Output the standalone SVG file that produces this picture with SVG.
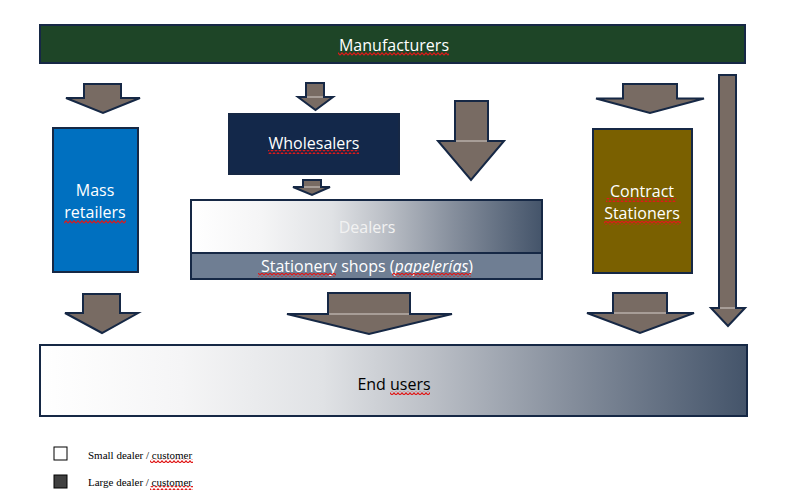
<svg xmlns="http://www.w3.org/2000/svg" width="811" height="499" viewBox="0 0 811 499">
<style>
.box{stroke:#162845;stroke-width:2}
.arr{fill:#786b63;stroke:#162845;stroke-width:2;stroke-linejoin:miter}
.seam{stroke:#d6d0cc;stroke-width:1}
.lbl{font-family:"Open Sans","Liberation Sans",sans-serif;font-size:16px;fill:#ffffff;text-anchor:middle}
.dark{fill:#000000}
.leg{font-family:"Liberation Serif","Times New Roman",serif;font-size:11px;fill:#000}
.sq{fill:url(#squig)}
</style>
<defs>
<linearGradient id="grad" x1="0" y1="0" x2="1" y2="0">
<stop offset="0" stop-color="#ffffff"/>
<stop offset="0.2" stop-color="#f5f5f6"/>
<stop offset="0.4" stop-color="#e0e2e5"/>
<stop offset="0.55" stop-color="#bcc0c7"/>
<stop offset="0.75" stop-color="#858e9c"/>
<stop offset="1" stop-color="#44546a"/>
</linearGradient>
<pattern id="squig" patternUnits="userSpaceOnUse" width="4" height="4">
<path d="M0,3.2 L2,0.8 L4,3.2" fill="none" stroke="#e01818" stroke-width="1.1"/>
</pattern>
</defs>

<g id="manufacturers">
<rect class="box" x="40" y="25" width="705" height="38" fill="#1e4527"/>
<text class="lbl" x="394" y="51">Manufacturers</text>
</g>

<g id="mass-retailers">
<rect class="box" x="53" y="128" width="85" height="144" fill="#0070c0"/>
<text class="lbl" x="95" y="196">Mass</text>
<text class="lbl" x="95" y="218">retailers</text>
</g>

<g id="wholesalers">
<rect class="box" x="229" y="114" width="170" height="60" fill="#13284a"/>
<text class="lbl" x="314" y="149">Wholesalers</text>
</g>

<g id="dealers">
<rect class="box" x="191" y="200" width="351" height="53" fill="url(#grad)"/>
<text class="lbl" x="367" y="233" style="fill:#f2f2f2">Dealers</text>
</g>

<g id="stationery-shops">
<rect class="box" x="191" y="253" width="351" height="26" fill="#6f7e93"/>
<text class="lbl" x="367" y="272">Stationery shops (<tspan font-style="italic">papelerías</tspan>)</text>
</g>

<g id="contract-stationers">
<rect class="box" x="593" y="129" width="99" height="144" fill="#7a6000"/>
<text class="lbl" x="642" y="197">Contract</text>
<text class="lbl" x="642" y="219">Stationers</text>
</g>

<g id="end-users">
<rect class="box" x="40" y="345" width="707" height="71" fill="url(#grad)"/>
<text class="lbl dark" x="394" y="390">End users</text>
</g>

<g id="connectors">
<path class="arr" d="M84,84 H121 V98 H140 L103,113 L66,98 H84 Z"/>
<path class="arr" d="M306,83 H324 V97 H333 L315.5,110 L298,97 H306 Z"/>
<line class="seam" x1="307" y1="97" x2="323" y2="97"/>
<path class="arr" d="M455,101 H488 V141 H504 L471,180 L438,141 H455 Z"/>
<line class="seam" x1="456" y1="141" x2="487" y2="141"/>
<path class="arr" d="M623,84 H677 V98.5 H704 L650,113 L596,98.5 H623 Z"/>
<path class="arr" d="M719,75 H736 V308 H745 L728,326 L711,308 H719 Z"/>
<line class="seam" x1="720" y1="308" x2="735" y2="308"/>
<path class="arr" d="M303,180 H321 V187 H330 L312,195 L293,187 H303 Z"/>
<line class="seam" x1="304" y1="187" x2="320" y2="187"/>
<path class="arr" d="M83,294 H120 V313 H138 L102,333 L65,313 H83 Z"/>
<path class="arr" d="M328,293 H410 V314 H452 L369,334 L287,314 H328 Z"/>
<line class="seam" x1="329" y1="314" x2="409" y2="314"/>
<path class="arr" d="M613,293 H667 V313 H694 L640,333 L587,313 H613 Z"/>
<line class="seam" x1="614" y1="313" x2="666" y2="313"/>
</g>

<g id="legend">
<rect x="54" y="447" width="13" height="13" fill="#ffffff" stroke="#000" stroke-width="1"/>
<text class="leg" x="88" y="459">Small dealer / customer</text>
<rect x="54" y="475" width="13" height="13" fill="#404040" stroke="#000" stroke-width="1"/>
<text class="leg" x="88" y="486">Large dealer / customer</text>
</g>

<g id="spellcheck">
<rect class="sq" x="338" y="52" width="111" height="4"/>
<rect class="sq" x="268" y="150" width="91" height="4"/>
<rect class="sq" x="64" y="220" width="62" height="4"/>
<rect class="sq" x="606" y="198" width="70" height="4"/>
<rect class="sq" x="604" y="221" width="77" height="4"/>
<rect class="sq" x="258" y="273" width="78" height="4"/>
<rect class="sq" x="392" y="273" width="79" height="4"/>
<rect class="sq" x="390" y="391" width="40" height="4"/>
<rect class="sq" x="150" y="459" width="43" height="4"/>
<rect class="sq" x="150" y="486" width="43" height="4"/>
</g>
</svg>
